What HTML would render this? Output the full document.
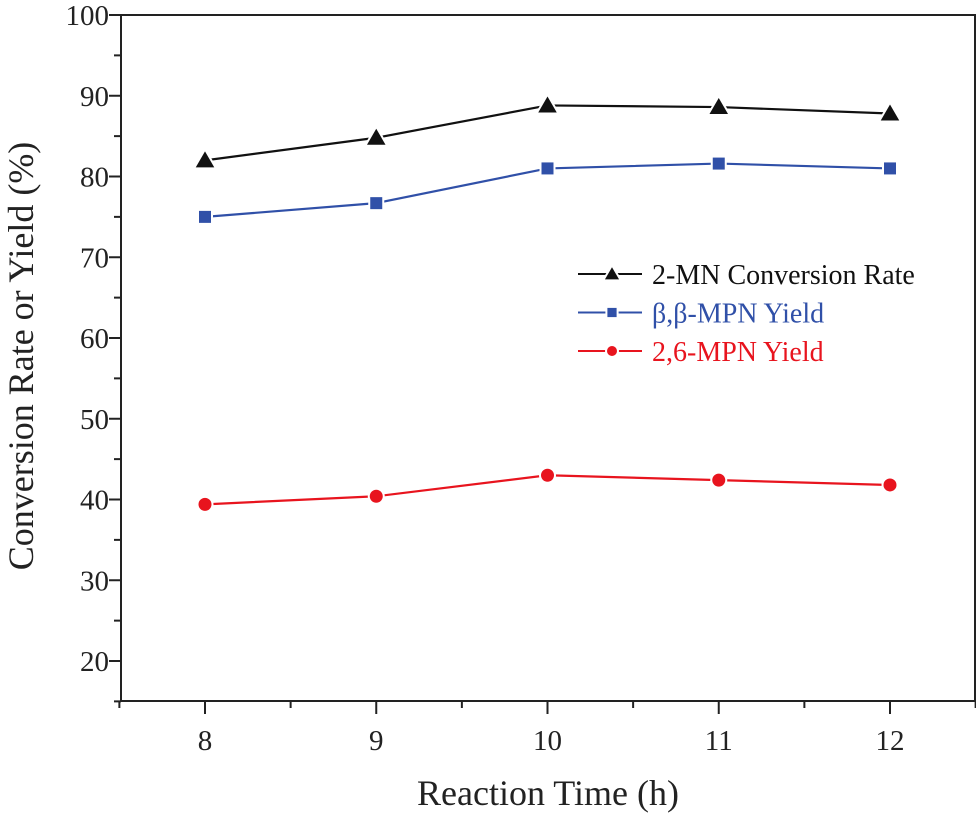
<!DOCTYPE html>
<html><head><meta charset="utf-8"><style>
body{margin:0;background:#fff}
svg text{font-family:"Liberation Serif",serif}
</style></head><body>
<svg id="c" width="976" height="815" xmlns="http://www.w3.org/2000/svg"></svg>
<script>
const categories=[8,9,10,11,12];
const conversion=[82.0,84.8,88.8,88.6,87.8];
const bbYield=[75.0,76.7,81.0,81.6,81.0];
const y26Yield=[39.4,40.4,43.0,42.4,41.8];
const yTicks=[20,30,40,50,60,70,80,90,100];
const xTicks=[8,9,10,11,12];
const NS='http://www.w3.org/2000/svg';
const svg=document.getElementById('c');
const L=121,R=975,T=15,B=701;
const X=v=>205+(v-8)*171.25;
const Y=v=>661-(v-20)*8.075;
function el(t,a,p){const e=document.createElementNS(NS,t);for(const k in a)e.setAttribute(k,a[k]);(p||svg).appendChild(e);return e;}
const frame=el('rect',{x:L,y:T,width:R-L,height:B-T,fill:'none',stroke:'#222','stroke-width':2});


const yAxis=el('g',{});


for(let v=15;v<=100;v+=5){const major=v%10===0;el('line',{x1:L,x2:L-(major?12:7),y1:Y(v),y2:Y(v),stroke:'#222','stroke-width':2},yAxis);}
yTicks.forEach(v=>{const t=el('text',{x:L-12,y:Y(v)+10,'text-anchor':'end','font-size':29,fill:'#222'},yAxis);t.textContent=v;

});
const xAxis=el('g',{});


for(let v=7.5;v<=12.5;v+=0.5){const major=Number.isInteger(v);el('line',{x1:X(v),x2:X(v),y1:B,y2:B+(major?13:7),stroke:'#222','stroke-width':2},xAxis);}
xTicks.forEach(v=>{const t=el('text',{x:X(v),y:B+49,'text-anchor':'middle','font-size':29,fill:'#222'},xAxis);t.textContent=v;

});
const xt=el('text',{x:548,y:805,'text-anchor':'middle','font-size':36,fill:'#222'});xt.textContent='Reaction Time (h)';


const yt=el('text',{x:0,y:0,'text-anchor':'middle','font-size':36,fill:'#222',transform:'translate(33,356) rotate(-90)'});yt.textContent='Conversion Rate or Yield (%)';


function marker(kind,x,y,color,g,s){
 s=s||1;
 if(kind==='tri')return el('polygon',{points:`${x},${y-11*s} ${x-11*s},${y+8*s} ${x+11*s},${y+8*s}`,fill:color,stroke:'#fff','stroke-width':2},g);
 if(kind==='sq')return el('rect',{x:x-7*s,y:y-7*s,width:14*s,height:14*s,fill:color,stroke:'#fff','stroke-width':2},g);
 return el('circle',{cx:x,cy:y,r:7.5*s,fill:color,stroke:'#fff','stroke-width':2},g);
}
const series=[[conversion,'#111','tri','series-conversion'],[bbYield,'#3050a8','sq','series-bb-yield'],[y26Yield,'#e8141e','circ','series-26-yield']];
series.forEach(([vals,color,kind,name])=>{
 const g=el('g',{});
 
 
 el('polyline',{points:vals.map((v,i)=>X(categories[i])+','+Y(v)).join(' '),fill:'none',stroke:color,'stroke-width':2.2},g);
 vals.forEach((v,i)=>{const m=marker(kind,X(categories[i]),Y(v),color,g);
 
 });
});
const legend=el('g',{});


const labels=['2-MN Conversion Rate','β,β-MPN Yield','2,6-MPN Yield'];
const lens=[271,186,186];
series.forEach(([vals,color,kind],i)=>{
 const y=274+i*38.5;
 const g=el('g',{},legend);
 
 
 el('line',{x1:578,x2:642,y1:y,y2:y,stroke:color,'stroke-width':2},g);
 marker(kind,612,y,color,g,0.8);
 const t=el('text',{x:652,y:y+10,'font-size':28,fill:color},g);t.textContent=labels[i];
});
</script>
</body></html>
